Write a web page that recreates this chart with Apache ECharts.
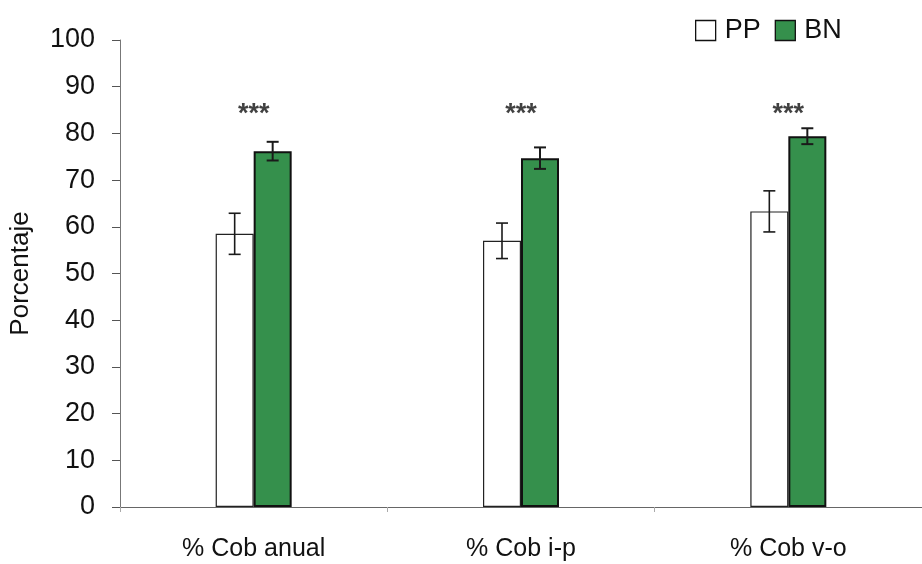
<!DOCTYPE html>
<html>
<head>
<meta charset="utf-8">
<script src="https://cdn.jsdelivr.net/npm/echarts@6/dist/echarts.min.js"></script>
<style>body{margin:0;background:#fff}#main{width:922px;height:564px}</style>
</head>
<body>
<div id="main"></div>
<script>
var categories = ['% Cob anual', '% Cob i-p', '% Cob v-o'];
var ppValues = [58.5, 57.0, 63.3];
var ppErr = [4.4, 3.8, 4.4];
var bnValues = [76.2, 74.7, 79.4];
var bnErr = [2.0, 2.3, 1.7];
var starLabels = ['***', '***', '***'];
var starY = 84;

var mychart = echarts.init(document.getElementById('main'));
var font = 'Liberation Sans, Arial, sans-serif';

function errData(vals, errs) {
    return vals.map(function (v, i) { return [i, v - errs[i], v + errs[i]]; });
}
// dibuja la barra de error desplazada hacia la barra correspondiente
function errRender(offset, w) {
    return function (params, api) {
        var i = api.value(0);
        var lo = api.coord([i, api.value(1)]);
        var hi = api.coord([i, api.value(2)]);
        var x = lo[0] + offset;
        var st = {stroke: '#1a1a1a', lineWidth: w};
        return {
            type: 'group',
            children: [
                {type: 'line', shape: {x1: x, y1: hi[1], x2: x, y2: lo[1]}, style: st},
                {type: 'line', shape: {x1: x - 6, y1: hi[1], x2: x + 6, y2: hi[1]}, style: st},
                {type: 'line', shape: {x1: x - 6, y1: lo[1], x2: x + 6, y2: lo[1]}, style: st}
            ]
        };
    };
}

var option = {
    animation: false,
    textStyle: {fontFamily: font},
    grid: {left: 120, right: -6, top: 40, bottom: 57},
    legend: {
        left: 690, top: 12,
        icon: 'rect',
        itemWidth: 20, itemHeight: 20, itemGap: 14,
        textStyle: {fontSize: 27, color: '#111', fontFamily: font, padding: [0, 0, 0, 4]},
        data: [
            {name: 'PP', itemStyle: {color: '#fff', borderColor: '#111', borderWidth: 1.3}},
            {name: 'BN', itemStyle: {color: '#35904c', borderColor: '#111', borderWidth: 1.3}}
        ]
    },
    xAxis: {
        type: 'category',
        data: categories,
        axisLine: {lineStyle: {color: '#666', width: 1}},
        axisTick: {show: true, length: 5, lineStyle: {color: '#aaa'}},
        axisLabel: {fontSize: 25, color: '#111', margin: 30, fontFamily: font}
    },
    yAxis: {
        type: 'value',
        min: 0, max: 100, interval: 10,
        name: 'Porcentaje',
        nameLocation: 'middle',
        nameGap: 86,
        nameTextStyle: {fontSize: 26, color: '#111', fontFamily: font},
        axisLine: {show: true, lineStyle: {color: '#777', width: 1}},
        axisTick: {show: true, length: 8, lineStyle: {color: '#555'}},
        splitLine: {show: false},
        axisLabel: {fontSize: 27, color: '#111', margin: 25, fontFamily: font}
    },
    series: [
        {
            name: 'PP', type: 'bar', data: ppValues, barWidth: 38, barGap: '0%',
            itemStyle: {color: '#fff', borderColor: '#222', borderWidth: 1.2}
        },
        {
            name: 'BN', type: 'bar', data: bnValues, barWidth: 38,
            itemStyle: {color: '#35904c', borderColor: '#111', borderWidth: 2}
        },
        {
            type: 'custom', data: errData(ppValues, ppErr), renderItem: errRender(-19, 1.6),
            encode: {x: 0, y: [1, 2]}, z: 5, silent: true
        },
        {
            type: 'custom', data: errData(bnValues, bnErr), renderItem: errRender(19, 2),
            encode: {x: 0, y: [1, 2]}, z: 5, silent: true
        },
        {
            type: 'scatter', symbolSize: 0, silent: true,
            data: starLabels.map(function (s, i) { return [i, starY, s]; }),
            label: {
                show: true, position: 'inside', fontSize: 27, fontWeight: 'bold', color: '#111',
                formatter: function (p) { return p.value[2]; }
            }
        }
    ]
};
mychart.setOption(option);
</script>
</body>
</html>
